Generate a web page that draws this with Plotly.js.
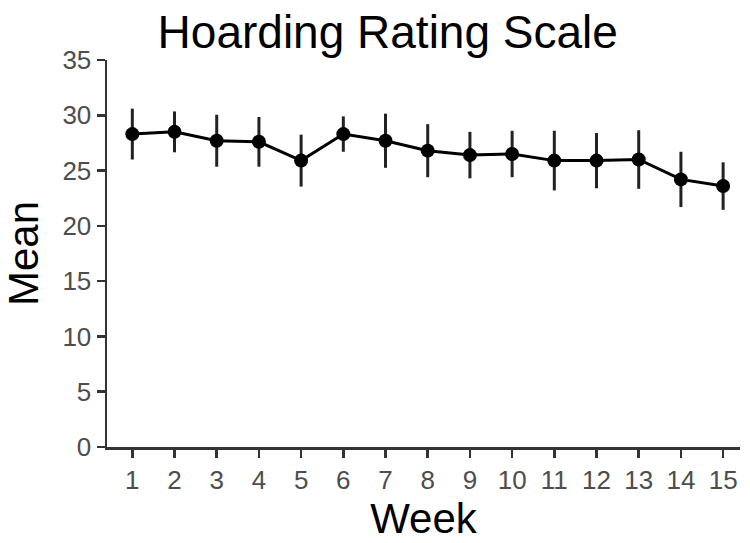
<!DOCTYPE html>
<html>
<head>
<meta charset="utf-8">
<script src="https://cdn.plot.ly/plotly-3.0.1.min.js"></script>
<style>
  html, body { margin: 0; padding: 0; background: #fff; }
  #chart { width: 750px; height: 543px; }
</style>
</head>
<body>
<div id="chart"></div>
<script>
// Weekly means of the hoarding rating scale
const weeks = [1, 2, 3, 4, 5, 6, 7, 8, 9, 10, 11, 12, 13, 14, 15];
const means = [28.3, 28.5, 27.7, 27.6, 25.9, 28.3, 27.7, 26.8, 26.4, 26.5, 25.9, 25.9, 26.0, 24.2, 23.6];
const errs = [2.3, 1.85, 2.35, 2.25, 2.35, 1.6, 2.45, 2.4, 2.1, 2.1, 2.7, 2.5, 2.65, 2.5, 2.15];
const yTicks = [0, 5, 10, 15, 20, 25, 30, 35];

const font = 'Liberation Sans, Arial, Helvetica, sans-serif';

const trace = {
  x: weeks,
  y: means,
  type: 'scatter',
  mode: 'lines+markers',
  line: { color: '#000', width: 3 },
  marker: { color: '#000', size: 14 },
  error_y: {
    type: 'data',
    array: errs,
    visible: true,
    color: '#222',
    thickness: 3,
    width: 0
  },
  hoverinfo: 'x+y'
};

const axisCommon = {
  showgrid: false,
  zeroline: false,
  showline: true,
  linecolor: '#333',
  linewidth: 2.5,
  ticks: 'outside',
  ticklen: 8,
  tickwidth: 2.5,
  tickcolor: '#333',
  tickfont: { family: font, size: 26, color: '#4d4d4d' }
};

const layout = {
  width: 750,
  height: 543,
  margin: { l: 107, r: 10, t: 60, b: 96 },
  paper_bgcolor: '#fff',
  plot_bgcolor: '#fff',
  showlegend: false,
  title: {
    text: 'Hoarding Rating Scale',
    font: { family: font, size: 46, color: '#000' },
    x: 0.517,
    xanchor: 'center',
    y: 0.97,
    yanchor: 'top'
  },
  xaxis: Object.assign({}, axisCommon, {
    range: [0.4, 15.4],
    tickmode: 'array',
    tickvals: weeks,
    ticktext: weeks.map(String),
    title: { text: 'Week', font: { family: font, size: 42, color: '#000' }, standoff: 4 }
  }),
  yaxis: Object.assign({}, axisCommon, {
    range: [0, 35],
    tickmode: 'array',
    tickvals: yTicks,
    ticktext: yTicks.map(String),
    title: { text: 'Mean', font: { family: font, size: 42, color: '#000' }, standoff: 14 }
  })
};

Plotly.newPlot('chart', [trace], layout, { displayModeBar: false, staticPlot: true });
</script>
</body>
</html>
